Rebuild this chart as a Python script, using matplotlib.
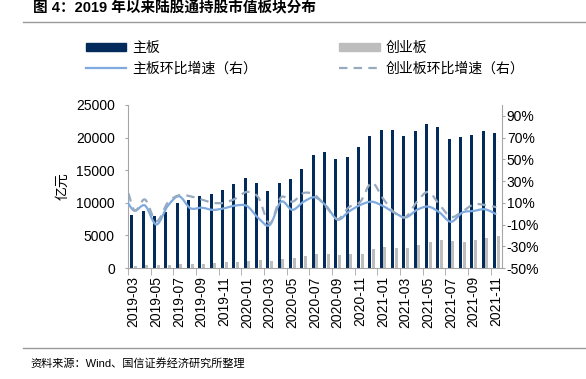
import matplotlib
matplotlib.use('Agg')
import matplotlib.pyplot as plt
from matplotlib.path import Path
from matplotlib.patches import PathPatch, Patch
from matplotlib.lines import Line2D
import numpy as np

plt.rcParams['font.family'] = ['Liberation Sans', 'Noto Sans CJK SC']

months = ['2019-03', '2019-04', '2019-05', '2019-06', '2019-07', '2019-08', '2019-09',
          '2019-10', '2019-11', '2019-12', '2020-01', '2020-02', '2020-03', '2020-04',
          '2020-05', '2020-06', '2020-07', '2020-08', '2020-09', '2020-10', '2020-11',
          '2020-12', '2021-01', '2021-02', '2021-03', '2021-04', '2021-05', '2021-06',
          '2021-07', '2021-08', '2021-09', '2021-10', '2021-11']

# 亿元
main_board = [8150, 8800, 7900, 8600, 10000, 10400, 11000, 11350, 12000, 12950, 13850,
              13050, 11800, 13050, 13600, 15200, 17300, 17800, 16750, 17100, 18500,
              20300, 21200, 21100, 20200, 20950, 22150, 21650, 19850, 20050, 20350,
              20950, 20650]
chinext = [350, 450, 400, 450, 550, 650, 650, 750, 850, 900, 1100, 1250, 1150, 1350,
           1500, 1850, 2150, 2150, 2050, 2200, 2150, 2850, 3150, 3050, 3000, 3500,
           3950, 4300, 4150, 4000, 4300, 4600, 4900]

# 环比增速 (%), first value is 2019-02 (cut off by the left edge)
growth_months = ['2019-02'] + months
main_growth = [20, 3, 7.5, -10, 7, 16, 5, 5.5, 3.5, 5, 7.5, 7, -4, -10.5, 11, 3.5, 11,
               15, 7, -5.5, 2, 8, 11, 7, 1, -3.5, 3.5, 6.5, 1, -7.5, 1, 2.5, 4, -0.5]
chinext_growth = [45, 4, 13, -7, 10, 17, 16, 13, 10, 10, 14, 20, 15, -9, 15, 11, 19, 17,
                  6, -5, 6, 11, 28.5, 14, 1, -3, 11, 20, 8, -3, 2, 8.5, 8, 6]

navy = '#022b5c'
grey = '#bdbdbd'
blue = '#7eaadf'
dash_col = '#97aabf'
axis_col = '#a6a6a6'


def smooth_path(x, y):
    # excel-style smoothed line: bezier through every point
    verts = [(x[0], y[0])]
    codes = [Path.MOVETO]
    n = len(x)
    for i in range(n - 1):
        xp, yp = (x[i - 1], y[i - 1]) if i > 0 else (x[i], y[i])
        xn, yn = (x[i + 2], y[i + 2]) if i + 2 < n else (x[i + 1], y[i + 1])
        c1 = (x[i] + (x[i + 1] - xp) / 6, y[i] + (y[i + 1] - yp) / 6)
        c2 = (x[i + 1] - (xn - x[i]) / 6, y[i + 1] - (yn - y[i]) / 6)
        verts += [c1, c2, (x[i + 1], y[i + 1])]
        codes += [Path.CURVE4] * 3
    return Path(verts, codes)


fig = plt.figure(figsize=(5.86, 3.79), dpi=100)
ax = fig.add_axes([128 / 586, 1 - 268 / 379, 374 / 586, 163 / 379])

x = np.arange(len(months))
w = 0.28
ax.bar(x - 0.16, main_board, width=w, color=navy, label='主板')
ax.bar(x + 0.16, chinext, width=w, color=grey, label='创业板')
ax.set_xlim(-0.5, len(months) - 0.5)
ax.set_ylim(0, 25000)
ax.set_yticks(np.arange(0, 25001, 5000))
ax.set_xticks(x[::2])
ax.set_xticklabels(months[::2], rotation=90)
ax.set_xticks(np.arange(-0.5, len(months), 2), minor=True)
ax.tick_params(axis='x', which='major', length=0, pad=6, labelsize=10)
ax.tick_params(axis='x', which='minor', length=5, color=axis_col, direction='out')
ax.tick_params(axis='y', length=2.5, color=axis_col, pad=7, labelsize=10)
ax.set_ylabel('亿元', fontsize=10, labelpad=5)
for s in ['top', 'right']:
    ax.spines[s].set_visible(False)
for s in ['left', 'bottom']:
    ax.spines[s].set_color(axis_col)

ax2 = ax.twinx()
gx = np.arange(-1, len(months))
ax2.add_patch(PathPatch(smooth_path(gx, main_growth), fill=False, edgecolor=blue, lw=1.6))
ax2.add_patch(PathPatch(smooth_path(gx, chinext_growth), fill=False, edgecolor=dash_col,
                        lw=1.6, linestyle=(0, (3.8, 2.8))))
ax2.set_ylim(-50, 100)
ax2.set_yticks(np.arange(-50, 91, 20))
ax2.set_yticklabels([f'{v}%' for v in range(-50, 91, 20)])
ax2.tick_params(axis='y', length=2.5, color=axis_col, pad=1, labelsize=10)
for s in ['top', 'left', 'bottom']:
    ax2.spines[s].set_visible(False)
ax2.spines['right'].set_color(axis_col)

handles = [Patch(color=navy),
           Line2D([], [], color=blue, lw=1.6),
           Patch(color=grey),
           Line2D([], [], color=dash_col, lw=1.6, linestyle=(0, (3.8, 2.8)))]
labels = ['主板', '主板环比增速（右）', '创业板', '创业板环比增速（右）']
fig.legend(handles, labels, ncol=2, loc='upper left', bbox_to_anchor=(86 / 586, 1 - 41 / 379),
           frameon=False, fontsize=10, handlelength=2.9, handleheight=0.5,
           handletextpad=0.45, columnspacing=5.9, labelspacing=0.45,
           borderpad=0, borderaxespad=0)

fig.text(33 / 586, 1 - 8 / 379, '图 4：2019 年以来陆股通持股市值板块分布', fontsize=10.5,
         fontweight='bold', va='center', ha='left')
fig.add_artist(Line2D([23 / 586, 1], [1 - 21.5 / 379] * 2, color='#999999', lw=1))
fig.add_artist(Line2D([23 / 586, 1], [1 - 348 / 379] * 2, color='#999999', lw=1))
fig.text(30 / 586, 1 - 363 / 379, '资料来源：Wind、国信证券经济研究所整理', fontsize=8,
         va='center', ha='left')

fig.savefig('out.png', dpi=100)
